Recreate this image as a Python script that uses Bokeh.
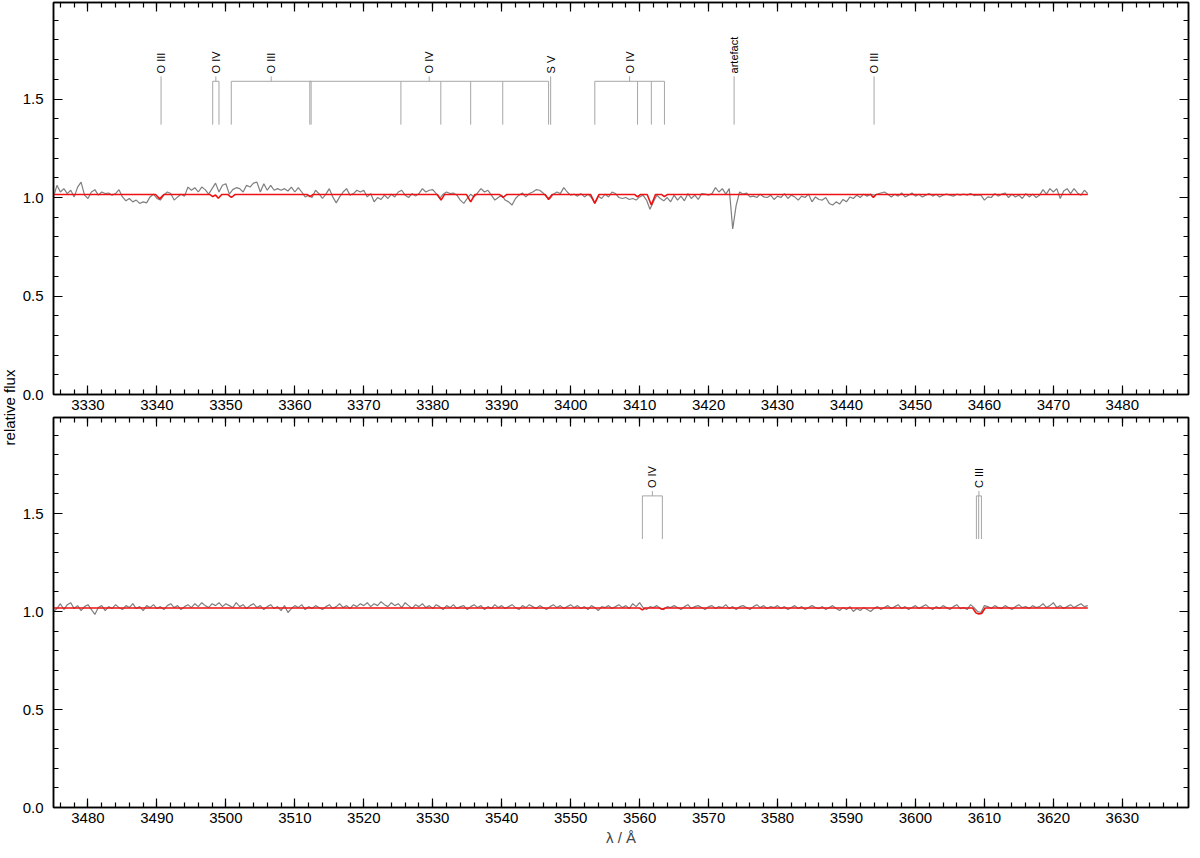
import math
from bokeh.plotting import figure
from bokeh.models import Range1d, LinearAxis, SingleIntervalTicker, CustomJSTickFormatter
from bokeh.layouts import row, column
from bokeh.embed import file_html
from bokeh.resources import INLINE
from bokeh.core.properties import value

# ---------------- data ----------------
top_start = 3325.0
top_step = 0.5
top_obs = [
    1.003, 1.062, 1.028, 1.045, 1.020, 1.037, 1.003, 1.053, 1.078, 1.012,
    0.995, 1.028, 1.040, 1.012, 1.028, 1.020, 1.023, 1.012, 1.020, 1.040,
    1.003, 0.983, 0.995, 0.978, 0.987, 0.970, 0.978, 0.973, 1.003, 1.017,
    0.995, 0.987, 1.012, 1.028, 1.020, 0.987, 1.003, 1.017, 1.007, 1.053,
    1.037, 1.050, 1.028, 1.053, 1.040, 1.017, 1.045, 1.073, 1.028, 1.062,
    1.070, 1.017, 1.040, 1.050, 1.045, 1.028, 1.062, 1.053, 1.073, 1.078,
    1.028, 1.070, 1.037, 1.062, 1.037, 1.045, 1.037, 1.045, 1.033, 1.053,
    1.028, 1.050, 1.028, 1.003, 1.012, 1.000, 1.037, 1.020, 0.995, 1.017,
    1.045, 1.003, 0.973, 1.003, 1.028, 1.045, 1.012, 1.020, 1.037, 1.028,
    1.037, 1.003, 1.020, 0.978, 1.000, 0.990, 1.012, 0.995, 1.017, 1.003,
    1.028, 1.037, 1.012, 1.000, 1.020, 1.007, 1.020, 1.045, 1.028, 1.037,
    1.040, 1.020, 0.995, 1.017, 1.028, 1.020, 1.023, 1.012, 0.987, 0.970,
    0.995, 1.017, 1.003, 1.023, 1.045, 1.028, 1.037, 1.012, 0.987, 1.000,
    1.012, 0.987, 0.978, 0.962, 0.995, 1.012, 1.023, 1.003, 1.020, 1.028,
    1.040, 1.037, 1.023, 1.003, 0.995, 1.017, 1.028, 1.020, 1.050, 1.028,
    1.012, 1.017, 1.007, 1.020, 1.003, 1.017, 1.000, 0.973, 1.007, 0.995,
    1.017, 1.003, 1.028, 1.020, 1.000, 0.995, 1.000, 0.990, 0.995, 0.987,
    1.003, 1.012, 0.987, 0.940, 0.978, 1.012, 0.995, 0.983, 1.000, 0.978,
    1.012, 0.987, 1.007, 0.983, 1.020, 0.995, 1.012, 0.990, 1.020, 1.017,
    1.012, 1.020, 1.050, 1.028, 1.045, 1.017, 1.045, 0.840, 0.960, 1.028,
    1.017, 1.023, 1.003, 1.007, 1.000, 1.017, 1.003, 1.000, 1.012, 0.990,
    1.007, 1.000, 1.020, 0.995, 1.012, 1.003, 0.987, 1.007, 1.000, 1.017,
    0.978, 1.003, 0.990, 0.987, 1.000, 0.970, 0.962, 0.978, 0.967, 0.990,
    0.978, 1.003, 0.995, 1.012, 1.000, 1.017, 1.007, 1.017, 1.012, 1.017,
    1.023, 1.028, 1.017, 1.003, 1.017, 1.007, 1.023, 1.003, 1.012, 1.023,
    1.007, 1.017, 1.003, 1.012, 1.020, 1.007, 1.017, 1.003, 1.012, 1.017,
    1.012, 1.007, 1.017, 1.012, 1.017, 1.012, 1.020, 1.010, 1.013, 1.012,
    0.987, 1.003, 1.000, 1.020, 1.007, 1.017, 1.023, 1.000, 1.017, 1.003,
    1.012, 0.995, 1.020, 1.003, 1.017, 1.000, 1.012, 1.040, 1.017, 1.045,
    1.028, 1.045, 0.995, 1.033, 1.045, 1.020, 1.045, 1.023, 1.012, 1.037,
    1.020,
]

top_model_wl = [3325.0, 3339.8, 3340.4, 3341.0, 3347.7, 3348.1, 3348.5, 3348.9, 3349.4,
                3350.3, 3350.8, 3351.3, 3361.8, 3362.2, 3362.6, 3380.7, 3381.2, 3381.7,
                3384.9, 3385.5, 3386.1, 3389.7, 3390.2, 3390.7, 3396.3, 3396.8, 3397.3,
                3402.9, 3403.5, 3404.1, 3409.3, 3409.7, 3410.1, 3411.1, 3411.7, 3412.3,
                3413.2, 3413.6, 3414.0, 3443.5, 3443.9, 3444.3, 3475.0]
top_model_fx = [1.015, 1.015, 0.993, 1.015, 1.015, 1.005, 1.013, 0.996, 1.015,
                1.015, 1.000, 1.015, 1.015, 1.005, 1.015, 1.015, 0.987, 1.015,
                1.015, 0.978, 1.015, 1.015, 1.000, 1.015, 1.015, 0.990, 1.015,
                1.015, 0.970, 1.015, 1.015, 1.003, 1.015, 1.015, 0.962, 1.015,
                1.015, 1.005, 1.015, 1.015, 1.000, 1.015, 1.015]

bot_start = 3475.0
bot_step = 0.5
bot_obs = [
    1.000, 1.015, 1.040, 1.010, 1.035, 1.045, 1.015, 1.030, 1.005, 1.025,
    1.035, 1.010, 0.985, 1.020, 1.030, 1.005, 1.025, 1.015, 1.035, 1.020,
    1.010, 1.030, 1.020, 1.040, 1.015, 1.025, 1.005, 1.030, 1.020, 1.035,
    1.015, 1.025, 1.010, 1.030, 1.040, 1.020, 1.030, 1.010, 1.025, 1.035,
    1.020, 1.040, 1.025, 1.045, 1.030, 1.020, 1.040, 1.030, 1.045, 1.025,
    1.040, 1.030, 1.020, 1.045, 1.025, 1.035, 1.015, 1.030, 1.040, 1.020,
    1.030, 1.010, 1.025, 1.035, 1.015, 1.025, 1.005, 1.030, 0.995, 1.015,
    1.030, 1.020, 1.035, 1.010, 1.025, 1.015, 1.030, 1.020, 1.010, 1.025,
    1.035, 1.015, 1.025, 1.040, 1.020, 1.030, 1.015, 1.035, 1.025, 1.040,
    1.030, 1.045, 1.025, 1.040, 1.030, 1.050, 1.035, 1.025, 1.045, 1.030,
    1.040, 1.020, 1.045, 1.030, 1.015, 1.035, 1.025, 1.040, 1.020, 1.030,
    1.015, 1.035, 1.025, 1.010, 1.030, 1.020, 1.035, 1.015, 1.025, 1.030,
    1.010, 1.025, 1.035, 1.020, 1.030, 1.010, 1.025, 1.015, 1.035, 1.020,
    1.030, 1.015, 1.025, 1.035, 1.020, 1.010, 1.030, 1.020, 1.035, 1.025,
    1.015, 1.030, 1.020, 1.010, 1.025, 1.035, 1.020, 1.030, 1.015, 1.025,
    1.035, 1.020, 1.030, 1.015, 1.025, 1.010, 1.030, 1.020, 1.005, 1.025,
    1.020, 1.030, 1.015, 1.025, 1.035, 1.020, 1.030, 1.015, 1.040, 1.025,
    1.045, 1.020, 1.010, 1.025, 1.020, 1.030, 1.015, 1.010, 1.025, 1.020,
    1.030, 1.020, 1.010, 1.025, 1.035, 1.015, 1.025, 1.030, 1.020, 1.010,
    1.025, 1.030, 1.015, 1.025, 1.020, 1.035, 1.015, 1.025, 1.010, 1.025,
    1.030, 1.020, 1.010, 1.025, 1.035, 1.020, 1.030, 1.015, 1.025, 1.020,
    1.030, 1.015, 1.025, 1.010, 1.020, 1.030, 1.015, 1.025, 1.010, 1.020,
    1.030, 1.020, 1.015, 1.025, 1.010, 1.020, 1.030, 1.015, 1.005, 1.020,
    1.010, 1.025, 1.000, 1.015, 1.005, 1.020, 1.010, 1.000, 1.015, 1.025,
    1.010, 1.020, 1.030, 1.015, 1.025, 1.035, 1.015, 1.025, 1.010, 1.020,
    1.030, 1.015, 1.025, 1.035, 1.020, 1.010, 1.025, 1.015, 1.030, 1.020,
    1.010, 1.025, 1.035, 1.015, 1.020, 1.010, 1.035, 1.020, 1.000, 0.995,
    1.030, 1.025, 1.015, 1.030, 1.020, 1.015, 1.030, 1.020, 1.010, 1.025,
    1.035, 1.020, 1.025, 1.015, 1.030, 1.020, 1.025, 1.040, 1.020, 1.030,
    1.045, 1.020, 1.030, 1.015, 1.025, 1.035, 1.020, 1.030, 1.040, 1.025,
    1.030,
]

bot_model_wl = [3475.0, 3560.0, 3560.4, 3560.8, 3562.9, 3563.3, 3563.7,
                3608.3, 3608.8, 3609.2, 3609.6, 3610.1, 3625.0]
bot_model_fx = [1.018, 1.018, 1.008, 1.018, 1.018, 1.012, 1.018,
                1.018, 0.992, 0.988, 0.990, 1.018, 1.018]

top_id_labels = ["O III", "O IV", "O III", "O IV", "S V", "O IV", "artefact", "O III"]
top_id_lines = [[3340.6], [3348.09, 3349.0], [3350.78, 3362.36],
                [3362.17, 3375.38, 3381.17, 3385.5, 3390.15, 3396.8],
                [3397.1], [3403.5, 3409.7, 3411.7, 3413.6], [3423.7], [3444.0]]

bot_id_labels = ["O IV", "C III"]
bot_id_lines = [[3560.4, 3563.3], [3608.84, 3609.17, 3609.57]]

top_xrange = (3325.0, 3489.6)
bot_xrange = (3475.0, 3639.6)
y_range = (0.0, 1.99)

x_label = "λ / Å"
y_label = "relative flux"

# ---------------- style ----------------
FONT = "Liberation Sans"
OBS_COLOR = "#7f7f7f"
MODEL_COLOR = "#ee1111"
ID_COLOR = "#a6a6a6"
Y_LOW, Y_BAR, Y_STEM, Y_TEXT = 1.37, 1.59, 1.615, 1.63

LABEL_W = 18
PANEL_W = 1172
TOP_H = 415
BOT_H = 433


def style_axis(ax, labels=True):
    ax.axis_line_width = 1.5
    ax.axis_line_color = "black"
    ax.major_tick_in = 9
    ax.major_tick_out = 0
    ax.minor_tick_in = 5
    ax.minor_tick_out = 0
    ax.major_tick_line_width = 1.2
    ax.minor_tick_line_width = 1.2
    ax.major_tick_line_color = "black"
    ax.minor_tick_line_color = "black"
    if labels:
        ax.major_label_text_font = FONT
        ax.major_label_text_font_size = "15px"
        ax.major_label_text_color = "black"
    else:
        ax.formatter = CustomJSTickFormatter(code="return '';")
        ax.major_label_text_font_size = "1px"
        ax.major_label_standoff = 0


def make_panel(xr, height, border_top, border_bottom, with_xlabel):
    p = figure(width=PANEL_W, height=height,
               x_range=Range1d(*xr), y_range=Range1d(*y_range),
               output_backend="svg", toolbar_location=None,
               min_border_left=35, min_border_right=2,
               min_border_top=border_top, min_border_bottom=border_bottom)
    p.xgrid.visible = False
    p.ygrid.visible = False
    p.outline_line_color = "black"
    p.outline_line_width = 1.5
    p.background_fill_color = "white"
    p.border_fill_color = "white"

    xt = SingleIntervalTicker(interval=10, num_minor_ticks=5)
    yt = SingleIntervalTicker(interval=0.5, num_minor_ticks=5)
    p.xaxis.ticker = xt
    p.yaxis.ticker = yt
    p.yaxis.formatter = CustomJSTickFormatter(code="return tick.toFixed(1);")
    for ax in p.xaxis:
        style_axis(ax)
        ax.major_label_standoff = 5
    for ax in p.yaxis:
        style_axis(ax)
        ax.major_label_standoff = 10
    if with_xlabel:
        p.xaxis.axis_label = x_label
        p.xaxis.axis_label_text_font = FONT
        p.xaxis.axis_label_text_font_size = "15px"
        p.xaxis.axis_label_text_font_style = "normal"
        p.xaxis.axis_label_standoff = 3

    top_ax = LinearAxis(ticker=SingleIntervalTicker(interval=10, num_minor_ticks=5))
    style_axis(top_ax, labels=False)
    p.add_layout(top_ax, "above")
    right_ax = LinearAxis(ticker=SingleIntervalTicker(interval=0.5, num_minor_ticks=5))
    style_axis(right_ax, labels=False)
    p.add_layout(right_ax, "right")
    return p


def draw_spectrum(p, start, step, obs, mwl, mfx):
    wl = [start + step * i for i in range(len(obs))]
    p.line(wl, obs, line_color=OBS_COLOR, line_width=1.2)
    p.line(mwl, mfx, line_color=MODEL_COLOR, line_width=1.6)


def draw_ids(p, labels, lines):
    vx0, vy0, vy1 = [], [], []
    hx0, hx1 = [], []
    lx = []
    for lab, ls in zip(labels, lines):
        c = 0.5 * (min(ls) + max(ls))
        lx.append(c)
        if len(ls) == 1:
            vx0.append(ls[0]); vy0.append(Y_LOW); vy1.append(Y_STEM)
        else:
            for w in ls:
                vx0.append(w); vy0.append(Y_LOW); vy1.append(Y_BAR)
            hx0.append(min(ls)); hx1.append(max(ls))
            vx0.append(c); vy0.append(Y_BAR); vy1.append(Y_STEM)
    p.segment(x0=vx0, y0=vy0, x1=vx0, y1=vy1, line_color=ID_COLOR, line_width=1)
    p.segment(x0=hx0, y0=[Y_BAR] * len(hx0), x1=hx1, y1=[Y_BAR] * len(hx0),
              line_color=ID_COLOR, line_width=1)
    p.text(x=lx, y=[Y_TEXT] * len(lx), text=labels, angle=math.pi / 2,
           text_align="left", text_baseline="middle",
           text_font=value(FONT), text_font_size="11px", text_color="black")


p1 = make_panel(top_xrange, TOP_H, 2, 21, False)
draw_spectrum(p1, top_start, top_step, top_obs, top_model_wl, top_model_fx)
draw_ids(p1, top_id_labels, top_id_lines)

p2 = make_panel(bot_xrange, BOT_H, 2, 40, True)
draw_spectrum(p2, bot_start, bot_step, bot_obs, bot_model_wl, bot_model_fx)
draw_ids(p2, bot_id_labels, bot_id_lines)

# y-axis label spanning both panels
TOTAL_H = TOP_H + BOT_H
pl = figure(width=LABEL_W, height=TOTAL_H, x_range=Range1d(0, 1), y_range=Range1d(0, TOTAL_H),
            output_backend="svg", toolbar_location=None,
            min_border=0, x_axis_location=None, y_axis_location=None)
pl.outline_line_color = None
pl.xgrid.visible = False
pl.ygrid.visible = False
pl.text(x=[0.5], y=[TOTAL_H - 407], text=[y_label], angle=math.pi / 2,
        text_align="center", text_baseline="middle",
        text_font=value(FONT), text_font_size="15px", text_color="black")

layout = row(pl, column(p1, p2))
open("out.html", "w").write(file_html(layout, INLINE))
